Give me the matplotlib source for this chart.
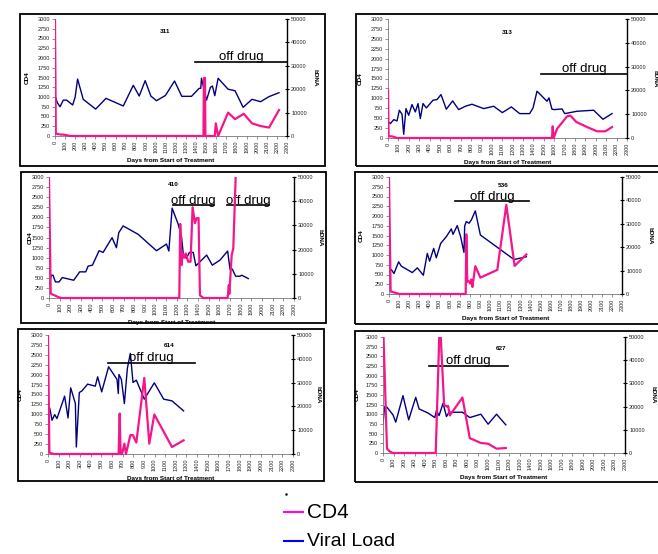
import matplotlib
matplotlib.use("Agg")
import matplotlib.pyplot as plt
from matplotlib.patches import Rectangle
from matplotlib.lines import Line2D

plt.rcParams['font.family'] = ['Liberation Sans', 'DejaVu Sans']

# ---- data ----
# blue line -> left axis (CD4 scale), magenta line -> right axis (bDNA scale)
days_311_blue = [0, 23, 50, 82, 115, 175, 200, 224, 280, 403, 505, 677, 776, 835, 894, 950, 1006, 1095,
                 1185, 1257, 1353, 1429, 1445, 1452, 1502, 1541, 1561, 1584, 1617, 1716, 1785, 1865,
                 1953, 2039, 2122, 2221]
blue_311 = [1034, 855, 750, 920, 920, 795, 1000, 1460, 940, 690, 965, 770, 1300, 1025, 1420, 1025, 905, 1040,
            1410, 1017, 1017, 1222, 1222, 1480, 920, 1250, 1280, 1034, 1480, 1200, 1160, 735,
            940, 880, 1010, 1110]
days_311_pink = [0, 8, 50, 100, 150, 1472, 1476, 1487, 1491, 1584, 1594, 1617, 1716, 1785, 1871, 1953,
                 2039, 2122, 2221]
pink_311 = [50000, 1000, 670, 500, 0, 0, 24800, 24800, 0, 0, 5400, 0, 10000, 7200, 9500, 5400,
            4250, 3600, 11100]

days_313_blue = [6, 22, 55, 87, 109, 135, 151, 173, 199, 231, 263, 289, 311, 337, 369, 433, 472, 510, 561,
                 622, 680, 744, 808, 921, 1017, 1100, 1187, 1267, 1363, 1396, 1434, 1530, 1549, 1578,
                 1601, 1675, 1700, 1819, 1979, 2069, 2156]
blue_313 = [405, 362, 463, 430, 700, 598, 93, 741, 573, 843, 657, 868, 489, 868, 758, 952, 969, 1095, 725,
            935, 716, 800, 851, 741, 800, 640, 783, 615, 615, 758, 1180, 927, 1011, 725,
            716, 733, 615, 674, 700, 472, 615]
days_313_pink = [0, 6, 38, 87, 1578, 1585, 1594, 1627, 1659, 1723, 1755, 1813, 1916, 2012, 2092, 2156]
pink_313 = [20400, 700, 700, 0, 0, 4900, 0, 3900, 5600, 9100, 9400, 6700, 4600, 2800, 2800, 4600]

days_410_blue = [0, 22, 38, 60, 94, 125, 232, 288, 345, 367, 408, 470, 508, 592, 633, 655, 696, 837, 1009,
                 1103, 1125, 1156, 1213, 1244, 1260, 1290, 1317, 1354, 1379, 1480, 1533, 1605, 1677,
                 1699, 1721, 1752, 1793, 1809, 1871]
blue_410 = [316, 565, 565, 399, 399, 507, 440, 648, 648, 790, 815, 1172, 1130, 1496, 1247, 1621, 1787, 1579,
            1172, 1338, 1164, 2228, 1829, 1521, 1106, 980, 1130, 1130, 798, 1064, 814, 939, 1164,
            715, 715, 540, 540, 565, 482]
days_410_pink = [0, 16, 53, 85, 116, 1223, 1232, 1245, 1254, 1270, 1285, 1307, 1329, 1348, 1370, 1386,
                 1404, 1417, 1448, 1677, 1688, 1693, 1715, 1730, 1760]
pink_410 = [50000, 1800, 1100, 400, 0, 0, 30600, 13600, 18400, 16600, 18400, 15000, 15000, 37500, 30900,
            33000, 33000, 1100, 0, 0, 5300, 1700, 17700, 20500, 60000]

days_536_blue = [0, 23, 49, 95, 122, 230, 280, 339, 378, 401, 441, 467, 510, 566, 615, 632, 674, 707, 740,
                 747, 763, 790, 813, 852, 902, 1234, 1356]
blue_536 = [567, 627, 524, 825, 713, 550, 670, 481, 1040, 842, 1169, 928, 1298, 1470, 1668, 1530, 1754,
            1470, 1066, 1745, 1857, 1814, 1900, 2132, 1513, 885, 954]
days_536_pink = [0, 16, 56, 105, 757, 763, 773, 790, 803, 813, 823, 852, 902, 1069, 1158, 1240, 1356]
pink_536 = [50000, 1150, 570, 0, 0, 25500, 5200, 5450, 4450, 6200, 3000, 11900, 7000, 10300, 38100,
            12000, 16900]

days_614_blue = [0, 16, 38, 63, 84, 156, 188, 213, 257, 266, 294, 319, 372, 444, 466, 504, 569, 648, 660,
                 666, 689, 717, 745, 773, 798, 829, 904, 998, 1086, 1164, 1273]
blue_614 = [868, 1163, 851, 994, 893, 1458, 910, 1668, 1272, 177, 1550, 1592, 1761, 1710, 1946, 1567,
            2199, 1879, 1525, 2005, 1879, 1272, 2157, 2536, 1803, 1862, 1382, 1795, 1382, 1340, 1087]
days_614_pink = [0, 13, 53, 663, 673, 682, 695, 717, 732, 773, 798, 829, 904, 951, 998, 1164, 1273]
pink_614 = [50000, 570, 0, 0, 17000, 0, 0, 4350, 0, 7900, 7900, 4800, 32000, 4350, 16600, 2950, 5750]

days_627_blue = [0, 16, 38, 95, 121, 190, 244, 311, 343, 431, 492, 508, 533, 571, 603, 628, 755, 825, 930,
                 999, 1079, 1167]
blue_627 = [771, 1200, 1183, 986, 797, 1483, 857, 1440, 1140, 1029, 917, 1097, 969, 1286, 943, 1054, 1054,
            917, 1003, 746, 1003, 729]
days_627_pink = [5, 38, 63, 95, 501, 540, 581, 609, 619, 635, 755, 825, 930, 999, 1079, 1167]
pink_627 = [50000, 1850, 700, 0, 0, 58000, 20700, 20000, 20300, 16200, 23900, 6400, 4300, 4000, 1850, 2150]

# off drug periods (start day, end day, level on CD4 scale)
off_311 = [(1386, 2300, 1906)]
off_313 = [(1476, 2300, 1626)]
off_410 = [(1160, 1549, 2294), (1674, 2063, 2294)]
off_536 = [(648, 1382, 2373)]
off_614 = [(560, 1377, 2300)]
off_627 = [(438, 1190, 2254)]

patients = ['311', '313', '410', '536', '614', '627']
legend_labels = ['CD4', 'Viral Load']

# ---- layout (pixels) ----
W, H = 658, 554
fig = plt.figure(figsize=(W / 100, H / 100), dpi=100)


def frac(x0, y0, x1, y1):
    return [x0 / W, 1 - y1 / H, (x1 - x0) / W, (y1 - y0) / H]


# name, plot box, frame box, data..., off drug, title pos, CD4 label offset, bDNA label offset (px)
panels = [
    (patients[0], (55, 19, 287, 136), (20, 14, 325, 166), days_311_blue, blue_311, days_311_pink, pink_311,
     off_311, (1095, 2692), -25, 28),
    (patients[1], (388, 19, 627, 138), (356, 14, 668, 166), days_313_blue, blue_313, days_313_pink, pink_313,
     off_313, (1145, 2662), -25, 28),
    (patients[2], (49, 177, 294, 298), (21, 172, 326, 323), days_410_blue, blue_410, days_410_pink, pink_410,
     off_410, (1166, 2810), -16, 26),
    (patients[3], (389, 177, 622, 294), (355, 172, 668, 324), days_536_blue, blue_536, days_536_pink, pink_536,
     off_536, (1125, 2785), -25, 28),
    (patients[4], (48, 335, 293, 454), (18, 329, 324, 481), days_614_blue, blue_614, days_614_pink, pink_614,
     off_614, (1133, 2746), -25, 25),
    (patients[5], (383, 337, 625, 453), (355, 331, 668, 482), days_627_blue, blue_627, days_627_pink, pink_627,
     off_627, (1126, 2700), -23, 28),
]

pink = '#F5168C'
navy = '#000080'
tick_fs = 4
lab_fs = 4.6

for name, box, frame, bd, bv, pd_, pv, offs, tpos, cd4_dx, bdna_dx in panels:
    fx0, fy0, fx1, fy1 = frame
    fig.add_artist(Rectangle((fx0 / W, 1 - fy1 / H), (fx1 - fx0) / W, (fy1 - fy0) / H,
                             transform=fig.transFigure, fill=False, ec='black', lw=1.3))

    ax = fig.add_axes(frac(*box))
    width_px = box[2] - box[0]
    ax.plot(bd, bv, color=navy, lw=1.0)
    ax.set_xlim(0, 2300)
    ax.set_ylim(0, 3000)
    ax.set_xticks(range(0, 2301, 100))
    ax.set_xticklabels([str(v) for v in range(0, 2301, 100)], rotation=90)
    ax.set_yticks(range(0, 3001, 250))
    ax.tick_params(labelsize=tick_fs, length=2, width=0.5, color='#666666', pad=1.5, labelcolor='#222222')
    for s in ['top', 'right']:
        ax.spines[s].set_visible(False)
    for s in ['left', 'bottom']:
        ax.spines[s].set_color('#777777')
        ax.spines[s].set_linewidth(0.6)
    ax.set_ylabel('CD4', fontsize=lab_fs, fontweight='bold')
    ax.yaxis.set_label_coords(cd4_dx / width_px, 0.5)
    ax.set_xlabel('Days from Start of Treatment', fontsize=lab_fs, fontweight='bold', labelpad=3)
    ax.text(tpos[0], tpos[1], name, fontsize=lab_fs, fontweight='bold', ha='center', va='center')

    for x0, x1, yl in offs:
        ax.plot([x0, x1], [yl, yl], color='black', lw=1.2)
        ax.text((x0 + x1) / 2, yl - 40, 'off drug', fontsize=9.5, ha='center', va='bottom')

    ax2 = ax.twinx()
    ln, = ax2.plot(pd_, pv, color=pink, lw=1.6)
    ln.set_clip_path(Rectangle((0, -0.04), 1, 1.04, transform=ax2.transAxes))
    ax2.set_ylim(0, 50000)
    ax2.set_yticks(range(0, 50001, 10000))
    for s in ['top', 'left', 'bottom']:
        ax2.spines[s].set_visible(False)
    ax2.spines['right'].set_color('black')
    ax2.spines['right'].set_linewidth(1.0)
    ax2.tick_params(axis='y', labelsize=tick_fs, direction='inout', length=3, width=0.8, pad=1.5,
                    labelcolor='#222222')
    ax2.set_ylabel('bDNA', fontsize=lab_fs, fontweight='bold', rotation=270, va='center')
    ax2.yaxis.set_label_coords(1 + bdna_dx / width_px, 0.5)

# legend
fig.add_artist(Line2D([286 / W], [1 - 494 / H], marker='.', ms=1.5, color='black', lw=0))
fig.add_artist(Line2D([284 / W, 303 / W], [1 - 512 / H] * 2, color='#FF00FF', lw=1.5))
fig.text(307 / W, 1 - 513 / H, legend_labels[0], fontsize=15, va='center')
fig.add_artist(Line2D([284 / W, 303 / W], [1 - 541 / H] * 2, color='#0000FF', lw=1.5))
fig.text(307 / W, 1 - 541 / H, legend_labels[1], fontsize=14, va='center')

fig.savefig('out.png', dpi=100)
